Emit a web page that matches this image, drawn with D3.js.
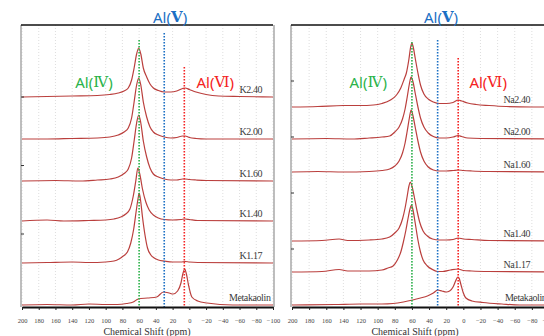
<!DOCTYPE html>
<html>
<head>
<meta charset="utf-8">
<script src="https://cdn.jsdelivr.net/npm/d3@7"></script>
<style>
  html, body { margin: 0; padding: 0; background: #fff; }
  svg { display: block; }
</style>
</head>
<body>
<div id="chart"></div>
<script>
// chemical shift ticks (ppm)
const shiftTicks = [200, 180, 160, 140, 120, 100, 80, 60, 40, 20, 0, -20, -40, -60, -80, -100];

// Al coordination sites: IV, V, VI
const siteNumerals = ["Ⅳ", "Ⅴ", "Ⅵ"];
const siteShifts = [60, 30, 6];
const siteColors = ["#2bb34a", "#1b6fc4", "#f42222"];

// series names and stacking offsets (intensity units, top to bottom)
const kLabels = ["K2.40", "K2.00", "K1.60", "K1.40", "K1.17", "Metakaolin"];
const kOffsets = [210, 168, 126, 86, 44, 2];
const naLabels = ["Na2.40", "Na2.00", "Na1.60", "Na1.40", "Na1.17", "Metakaolin"];
const naOffsets = [200, 168, 135, 66, 35, 2];

// spectra [ppm, intensity]
const k240 = [[200,0],[170,0.5],[140,1],[110,1.5],[95,2.5],[85,4],[78,6],[73,9],[69,17],[66,29],[63,43],[60.5,49],[58,43],[55,29],[51,20],[47,13],[43,9],[37,6.5],[30,5],[22,5],[15,6],[8,8.5],[5,9],[0,7.5],[-8,5],[-20,2.5],[-35,1],[-60,0.5],[-100,0]];
const k200 = [[200,0],[170,0],[140,0.5],[110,1],[95,2],[85,4],[78,7],[73,11],[69,21],[66,37],[63,54],[60.5,61],[58,54],[55,37],[51,22],[47,12],[43,7],[37,4],[30,2],[22,1],[15,1.5],[8,3],[5,3],[0,1.5],[-8,0.5],[-20,0],[-100,0]];
const k160 = [[200,0],[160,0.5],[130,0],[110,1],[95,2],[85,4],[78,7.5],[73,12],[69,23],[66,40],[63,58],[60.5,66],[58,58],[55,40],[51,24],[47,13],[43,7],[37,4],[30,2],[22,1],[15,1],[8,2],[5,2],[0,1.5],[-8,1],[-20,0.5],[-100,0]];
const k140 = [[200,0],[170,1],[150,0],[120,0.5],[100,1],[90,2],[82,4],[76,7],[71,12],[67,25],[64,40],[61.5,53],[59,46],[56,32],[52,19],[48,11],[43,6],[37,3],[30,1.5],[20,1],[10,1.5],[5,2],[0,1.5],[-10,0.5],[-100,0]];
const k117 = [[200,0],[170,0.5],[140,1],[120,0.5],[100,1],[90,2],[84,4],[79,7],[74,11],[70,20],[66.5,34],[63.5,52],[61,66],[60,70],[58.5,64],[56,46],[53,28],[50,15],[46,8],[42,5],[37,3],[30,2],[20,1],[10,1],[5,1.5],[0,1],[-10,0.5],[-100,0]];
const kMeta = [[200,0],[170,0.5],[140,0],[120,1],[100,0.5],[86,0.5],[75,1.5],[67,3],[61,6],[50,7],[39,8],[31,13],[24,12],[19.5,11],[14,14],[10,22],[7.5,32],[5.5,36],[3.5,31],[1,20],[-3,8],[-10,4],[-21,2],[-52,0],[-100,0]];

const na240 = [[200,0],[170,0.5],[140,1.5],[120,1.5],[105,2],[95,3.5],[85,7],[78,12],[73,19],[69,28],[66.5,34],[63.5,48],[61.5,60],[60,64],[58.5,60],[56,48],[53,34],[50,22],[46,13],[41,8],[35,5],[28,3.5],[20,3.5],[12,4.5],[6,7],[2,6],[-5,4],[-15,2.5],[-30,1.5],[-50,0.5],[-80,0],[-100,0]];
const na200 = [[200,0],[160,0.5],[130,0],[110,1],[95,2],[86,3],[80,7],[75,12],[71,20],[68,30],[65.5,42],[63,55],[61,62],[59,58],[56,45],[53,32],[50,21],[46,12],[41,6],[35,2.5],[28,1],[20,1],[12,2],[6,3.5],[2,2.5],[-5,1],[-20,0.5],[-100,0]];
const na160 = [[200,0],[170,0.5],[140,0],[110,0.5],[95,1.5],[86,3],[80,6],[75,11],[71,19],[68,29],[65.5,41],[63,54],[61,62],[59,57],[56,44],[53,31],[50,20],[46,11],[41,5],[35,2],[28,1],[20,1],[12,1.5],[6,2],[0,1.5],[-10,1],[-30,0.5],[-100,0]];
const na140 = [[200,0],[165,0.5],[145,2],[135,0.5],[110,1],[95,2],[86,4],[80,8],[75,13],[71,22],[68,33],[65.5,45],[63.5,55],[62,59],[60,55],[57,43],[54,30],[51,19],[47,10],[42,5],[36,2],[28,1],[20,1],[12,1.5],[6,3],[0,2],[-10,1.5],[-30,0.5],[-100,0]];
const na117 = [[200,0],[165,0.5],[145,2.5],[135,1],[110,1],[95,2],[88,4],[82,6],[77,12],[73,20],[70,30],[67,42],[64,56],[62,64],[60.5,67],[59,63],[56,48],[53,32],[50,20],[47,12],[42,6],[36,2.5],[30,0.5],[24,0.5],[15,2],[6,3],[0,1.5],[-10,1],[-30,0.5],[-100,0]];
const naMeta = [[200,0],[150,0.5],[120,1],[95,1],[82,1.5],[70,3],[59,5],[50,7],[42,9],[35,12],[30,15],[25,14],[20,13],[16,14],[12,18],[9,24],[6.5,28],[5,27],[3,21],[0,12],[-3,7],[-10,4],[-23,2.5],[-45,1],[-66,0],[-100,0]];

const kSeries = [k240, k200, k160, k140, k117, kMeta];
const naSeries = [na240, na200, na160, na140, na117, naMeta];

const width = 544, height = 336;
const plotTop = 25, plotBottom = 307;

const svg = d3.select("#chart").append("svg")
  .attr("width", width)
  .attr("height", height);

// one shared intensity scale for both panels
const y = d3.scaleLinear().domain([0, 282]).range([plotBottom, plotTop]);

function drawPanel(p) {
  const x = d3.scaleLinear().domain([200, -100]).range(p.range);
  const g = svg.append("g");

  // faint dotted grid at every tick
  g.selectAll(".grid")
    .data(shiftTicks)
    .enter()
    .append("line")
    .attr("x1", d => x(d)).attr("x2", d => x(d))
    .attr("y1", plotTop).attr("y2", plotBottom)
    .attr("stroke", "#d6d6d6")
    .attr("stroke-width", 0.8)
    .attr("stroke-dasharray", "1,2");

  // spectra
  const line = d3.line()
    .x(d => x(d[0]))
    .y(d => y(d[1]))
    .curve(d3.curveMonotoneX);

  p.series.forEach((s, i) => {
    const pts = s.map(d => [d[0], d[1] + p.offsets[i]]);
    g.append("path")
      .attr("d", line(pts))
      .attr("fill", "none")
      .attr("stroke", "#b22a28")
      .attr("stroke-width", 1.2)
      .attr("stroke-opacity", 0.9);
  });

  // coordination site markers
  siteShifts.forEach((s, i) => {
    g.append("line")
      .attr("x1", x(s)).attr("x2", x(s))
      .attr("y1", y(p.siteTops[i])).attr("y2", plotBottom)
      .attr("stroke", siteColors[i])
      .attr("stroke-width", 1.6)
      .attr("stroke-dasharray", "1.5,1.5");
  });

  // series names
  p.labels.forEach((name, i) => {
    g.append("text")
      .attr("x", x(i === p.labels.length - 1 ? -97 : p.labelAt))
      .attr("y", y(p.offsets[i]) - 4.5)
      .attr("text-anchor", "end")
      .attr("font-family", "Liberation Serif, serif")
      .attr("font-size", 10)
      .attr("letter-spacing", "-0.4px")
      .attr("fill", "#3a3a3a")
      .text(name);
  });

  // frame: gray sides, black top
  g.append("line")
    .attr("x1", p.range[0] - 1).attr("x2", p.range[0] - 1)
    .attr("y1", plotTop).attr("y2", plotBottom)
    .attr("stroke", "#a8a8a8").attr("stroke-width", 1.5);
  if (p.rightEdge) {
    g.append("line")
      .attr("x1", p.rightEdge).attr("x2", p.rightEdge)
      .attr("y1", plotTop).attr("y2", plotBottom)
      .attr("stroke", "#a8a8a8").attr("stroke-width", 1.5);
  }
  g.append("line")
    .attr("x1", p.range[0] - 1).attr("x2", Math.min(p.range[1], p.rightEdge || width))
    .attr("y1", plotTop).attr("y2", plotTop)
    .attr("stroke", "#111").attr("stroke-width", 1.5);

  // small tick marks on the left edge
  g.selectAll(".ytick")
    .data(p.yTicks)
    .enter()
    .append("line")
    .attr("x1", p.range[0] - 1).attr("x2", p.range[0] + 2)
    .attr("y1", d => y(d)).attr("y2", d => y(d))
    .attr("stroke", "#333").attr("stroke-width", 1);

  // chemical shift axis
  const axis = g.append("g")
    .attr("transform", `translate(0,${plotBottom})`)
    .call(d3.axisBottom(x).tickValues(shiftTicks).tickSize(3).tickPadding(8).tickSizeOuter(0));
  axis.select(".domain").attr("stroke", "#111").attr("stroke-width", 1.8);
  axis.selectAll(".tick line").attr("stroke", "#222");
  axis.selectAll("text")
    .attr("font-family", "Liberation Serif, serif")
    .attr("font-size", 6.5)
    .attr("fill", "#444");

  g.append("text")
    .attr("x", p.titleX)
    .attr("y", 335)
    .attr("text-anchor", "middle")
    .attr("font-family", "Liberation Serif, serif")
    .attr("font-size", 10)
    .attr("fill", "#333")
    .text("Chemical Shift (ppm)");

  // site labels, numeral in a serif face like the original
  siteNumerals.forEach((num, i) => {
    const t = g.append("text")
      .attr("x", x(p.siteLabelAt[i][0]))
      .attr("y", y(p.siteLabelAt[i][1]))
      .attr("text-anchor", "middle")
      .attr("dominant-baseline", "central")
      .attr("font-family", "Noto Sans, sans-serif")
      .attr("font-size", 15)
      .attr("fill", siteColors[i]);
    t.append("tspan").text("Al(");
    t.append("tspan")
      .attr("font-family", "DejaVu Serif, Liberation Serif, serif")
      .attr("font-weight", i === 1 ? 700 : 400)
      .text(num);
    t.append("tspan").text(")");
  });
}

drawPanel({
  range: [22, 273],
  rightEdge: 274,
  series: kSeries,
  offsets: kOffsets,
  labels: kLabels,
  labelAt: -87,
  siteTops: [267, 274, 240],
  siteLabelAt: [[114, 225], [23, 290], [-31, 225]],
  yTicks: [210, 141.5, 73],
  titleX: 147
});

drawPanel({
  range: [292, 549],
  rightEdge: null,
  series: naSeries,
  offsets: naOffsets,
  labels: naLabels,
  labelAt: -78,
  siteTops: [265, 267, 249],
  siteLabelAt: [[111, 225], [26, 290], [-29, 225]],
  yTicks: [226, 170, 114, 58],
  titleX: 415
});
</script>
</body>
</html>
